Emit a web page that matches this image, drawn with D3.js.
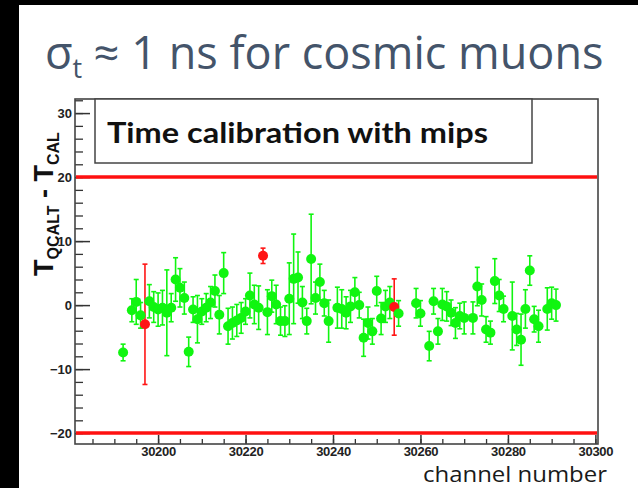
<!DOCTYPE html>
<html>
<head>
<meta charset="utf-8">
<script src="https://cdn.jsdelivr.net/npm/d3@7"></script>
<style>
  body { margin: 0; background: #fff; }
  svg { display: block; }
</style>
</head>
<body>
<svg id="chart"></svg>
<script>
// channel number, T_QCALT - T_CAL and its error
const channels = [30192, 30194, 30195, 30196, 30197, 30198, 30199, 30200, 30201, 30202,
  30203, 30204, 30205, 30206, 30207, 30208, 30209, 30210, 30211, 30212,
  30213, 30214, 30215, 30216, 30217, 30218, 30219, 30220, 30221, 30222,
  30223, 30224, 30225, 30226, 30227, 30228, 30229, 30230, 30231, 30232,
  30233, 30234, 30235, 30236, 30237, 30238, 30239, 30241, 30242, 30243,
  30244, 30245, 30246, 30247, 30248, 30249, 30250, 30251, 30252, 30253,
  30254, 30255, 30259, 30260, 30262, 30263, 30264, 30265, 30266, 30267,
  30268, 30269, 30270, 30272, 30273, 30274, 30275, 30276, 30277, 30278,
  30279, 30281, 30282, 30283, 30284, 30285, 30286, 30287, 30289, 30290, 30291]
const tdiff = [-7.4, -0.8, 0.5, -1.6, -3.0, 0.6, -0.3, -0.7, -0.4, -1.2,
  -0.4, 4.0, 2.7, 1.1, -7.3, -0.7, -2.2, -1.0, -0.4, 0.4,
  2.2, -1.5, 5.0, -3.3, -2.8, -2.4, -2.0, -1.0, 1.5, 0.1,
  -0.4, 7.7, -1.1, 1.4, 0.1, -2.5, -2.5, 1.0, 4.1, 4.3,
  0.4, -2.5, 7.2, 1.1, 3.6, 0.3, -2.5, -0.4, -0.6, -1.2,
  -0.2, 2.0, 0.0, -5.1, -2.8, -4.1, 2.2, -2.1, -0.2, 0.4,
  -0.3, -1.3, 0.3, -1.3, -6.4, 0.6, -4.1, 0.1, -0.2, -1.2,
  -2.8, -1.7, -2.0, -2.0, 2.9, 0.8, -3.8, -4.3, 3.75, 1.5,
  -0.6, -1.7, -3.8, -5.4, -0.6, 5.4, -2.2, -3.3, -0.6, 0.3, 0.0]
const terr = [1.3, 1.8, 3.5, 2.0, 9.4, 2.6, 2.4, 2.6, 2.7, 6.7,
  2.2, 3.4, 3.0, 2.5, 2.3, 2.0, 3.7, 2.0, 2.2, 2.5,
  2.5, 3.0, 3.2, 2.8, 2.5, 2.5, 2.4, 2.0, 3.5, 3.0,
  3.4, 1.2, 3.5, 2.5, 3.0, 2.2, 2.4, 5.6, 7.0, 4.0,
  2.5, 2.0, 7.0, 2.5, 2.8, 2.0, 3.3, 3.2, 3.0, 2.5,
  2.5, 2.3, 2.0, 2.9, 2.5, 2.0, 2.3, 2.5, 2.5, 2.5,
  4.4, 2.0, 2.3, 2.0, 2.3, 2.0, 2.0, 2.5, 2.3, 2.0,
  2.4, 2.0, 2.5, 2.5, 3.0, 2.5, 2.0, 1.8, 3.5, 2.5,
  2.0, 5.3, 2.5, 4.0, 3.0, 2.3, 2.0, 2.5, 3.3, 2.5, 2.5]
const badChannels = [30197, 30224, 30254]
const limits = [20, -20]
const yMajor = [-20, -10, 0, 10, 20, 30]
const xMajor = [30200, 30220, 30240, 30260, 30280, 30300]

const width = 638, height = 488
const svg = d3.select('#chart').attr('width', width).attr('height', height)

svg.append('rect').attr('width', width).attr('height', height).attr('fill', '#fff')
svg.append('rect').attr('width', 19).attr('height', height).attr('fill', '#000')
svg.append('rect').attr('width', width).attr('height', 5).attr('fill', '#000')

// slide title
const title = svg.append('text')
  .attr('x', 45).attr('y', 69)
  .attr('font-family', 'Open Sans, sans-serif')
  .attr('font-size', 45)
  .attr('fill', '#44546a')
title.append('tspan').text('σ')
title.append('tspan').attr('font-size', 27).attr('dy', 9).text('t')
title.append('tspan').attr('dy', -9).text(' ≈ 1 ns for cosmic muons')

const frame = { left: 75, right: 598, top: 99, bottom: 444 }
const x = d3.scaleLinear().domain([30181, 30300.6]).range([frame.left, frame.right])
const y = d3.scaleLinear().domain([-21.7, 32.2]).range([frame.bottom, frame.top])

const tickFont = g => g.selectAll('text')
  .attr('font-family', 'Liberation Sans, Arial, sans-serif')
  .attr('font-weight', 'bold')
  .attr('font-size', 13)
  .attr('fill', '#222')

// y axis, ticks pointing inward
svg.append('g').attr('transform', `translate(${frame.left},0)`)
  .call(d3.axisLeft(y).tickValues(d3.range(-20, 33, 2)).tickSize(-8).tickFormat(''))
  .call(g => g.select('.domain').remove())
  .call(g => g.selectAll('line').attr('stroke', '#333').attr('stroke-width', 1.3))
svg.append('g').attr('transform', `translate(${frame.left},0)`)
  .call(d3.axisLeft(y).tickValues(yMajor).tickSize(-15).tickPadding(3))
  .call(g => g.select('.domain').remove())
  .call(g => g.selectAll('line').attr('stroke', '#333').attr('stroke-width', 1.5))
  .call(tickFont)
  .call(g => g.selectAll('text').text(d => d < 0 ? '\u2212' + Math.abs(d) : d))

// x axis
svg.append('g').attr('transform', `translate(0,${frame.bottom})`)
  .call(d3.axisBottom(x).tickValues(d3.range(30185, 30301, 5)).tickSize(-5).tickFormat(''))
  .call(g => g.select('.domain').remove())
  .call(g => g.selectAll('line').attr('stroke', '#333').attr('stroke-width', 1.3))
svg.append('g').attr('transform', `translate(0,${frame.bottom})`)
  .call(d3.axisBottom(x).tickValues(xMajor).tickSize(-9).tickPadding(3).tickFormat(d3.format('d')))
  .call(g => g.select('.domain').remove())
  .call(g => g.selectAll('line').attr('stroke', '#333').attr('stroke-width', 1.5))
  .call(tickFont)
  .call(g => g.selectAll('text').attr('letter-spacing', -0.3))

svg.append('rect')
  .attr('x', frame.left).attr('y', frame.top)
  .attr('width', frame.right - frame.left).attr('height', frame.bottom - frame.top)
  .attr('fill', 'none').attr('stroke', '#444').attr('stroke-width', 1.6)

// accepted window
svg.append('g').selectAll('line').data(limits).join('line')
  .attr('x1', frame.left + 1).attr('x2', frame.right - 1)
  .attr('y1', d => y(d)).attr('y2', d => y(d))
  .attr('stroke', '#ff1010').attr('stroke-width', 3.5)

// label box
svg.append('rect')
  .attr('x', 95).attr('y', frame.top).attr('width', 437).attr('height', 64)
  .attr('fill', '#fff').attr('stroke', '#444').attr('stroke-width', 1.5)
svg.append('text')
  .attr('x', 107).attr('y', 143)
  .attr('font-family', 'Lato, sans-serif').attr('font-weight', 'bold')
  .attr('font-size', 29).attr('fill', '#111')
  .attr('textLength', 381).attr('lengthAdjust', 'spacingAndGlyphs')
  .text('Time calibration with mips')

// y title
const yt = svg.append('text')
  .attr('transform', 'translate(53,204) rotate(-90)')
  .attr('text-anchor', 'middle')
  .attr('font-family', 'Liberation Sans, Arial, sans-serif').attr('font-weight', 'bold')
  .attr('font-size', 27).attr('fill', '#111')
yt.append('tspan').text('T')
yt.append('tspan').attr('font-size', 16).attr('dy', 6).text('QCALT')
yt.append('tspan').attr('dy', -6).text(' - T')
yt.append('tspan').attr('font-size', 16).attr('dy', 6).text('CAL')

svg.append('text')
  .attr('x', 607).attr('y', 482).attr('text-anchor', 'end')
  .attr('font-family', 'Open Sans, sans-serif')
  .attr('font-size', 22).attr('fill', '#1a1a1a')
  .attr('textLength', 184).attr('lengthAdjust', 'spacingAndGlyphs')
  .text('channel number')

// measurements
const points = channels.map((c, i) => ({ c, v: tdiff[i], e: terr[i], bad: badChannels.includes(c) }))
const color = d => d.bad ? '#ff1515' : '#10f510'

const bars = svg.append('g').selectAll('g').data(points).join('g')
  .attr('stroke', color).attr('stroke-width', 1.6)
bars.append('line')
  .attr('x1', d => x(d.c)).attr('x2', d => x(d.c))
  .attr('y1', d => y(d.v + d.e)).attr('y2', d => y(d.v - d.e))
bars.append('line')
  .attr('x1', d => x(d.c) - 2.5).attr('x2', d => x(d.c) + 2.5)
  .attr('y1', d => y(d.v + d.e)).attr('y2', d => y(d.v + d.e))
bars.append('line')
  .attr('x1', d => x(d.c) - 2.5).attr('x2', d => x(d.c) + 2.5)
  .attr('y1', d => y(d.v - d.e)).attr('y2', d => y(d.v - d.e))

svg.append('g').selectAll('circle').data(points).join('circle')
  .attr('cx', d => x(d.c)).attr('cy', d => y(d.v))
  .attr('r', 5)
  .attr('fill', color)
</script>
</body>
</html>
